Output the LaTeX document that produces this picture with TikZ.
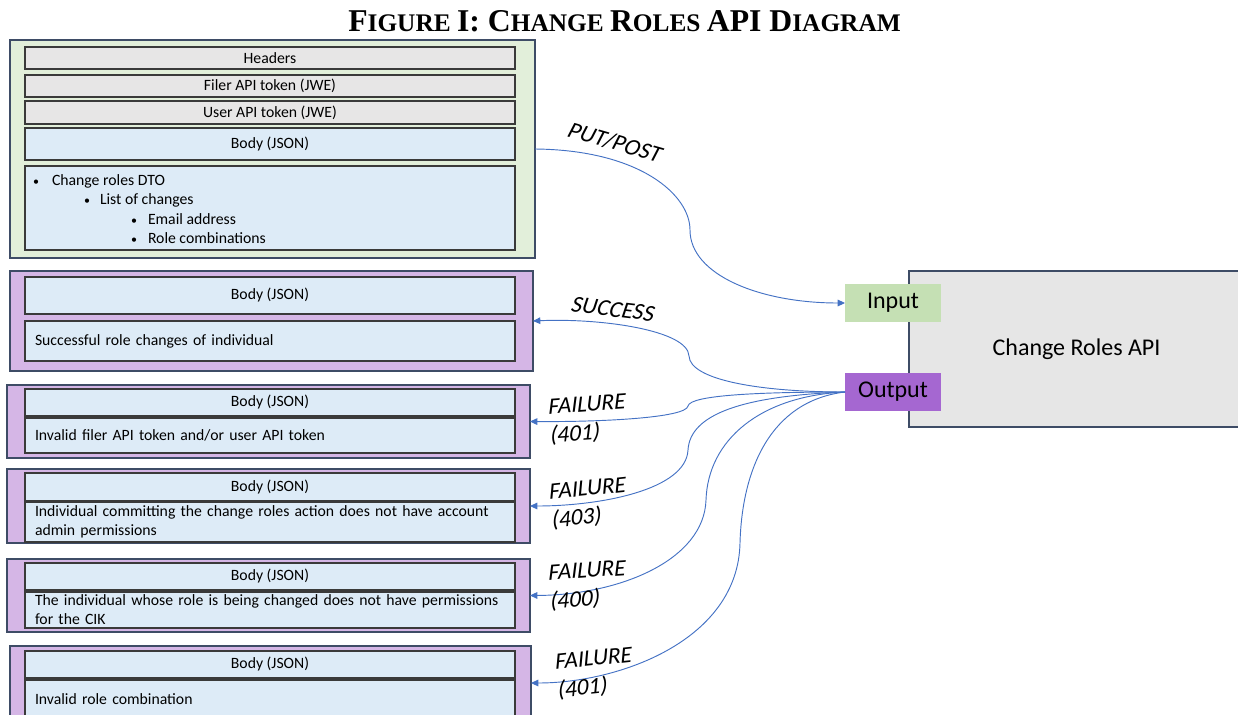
\documentclass[tikz,border=0pt]{standalone}
\usepackage{fontspec}
\setmainfont{Carlito}
\newfontfamily\labfont{Carlito}[FakeSlant=0.2]
\newfontfamily\titlefont{Liberation Serif}
\usetikzlibrary{arrows.meta}
\definecolor{edgec}{HTML}{3E4C66}
\definecolor{innerc}{HTML}{3A3A3A}
\definecolor{greenf}{HTML}{E2EFDA}
\definecolor{grayf}{HTML}{E7E6E6}
\definecolor{bluef}{HTML}{DDEBF7}
\definecolor{purplef}{HTML}{D5B6E6}
\definecolor{apif}{HTML}{E6E6E6}
\definecolor{inf}{HTML}{C5E0B4}
\definecolor{outf}{HTML}{A567D1}
\definecolor{arrowc}{HTML}{4472C4}
\newcommand\bx[7]{\node[#6, anchor=north west, minimum width={(#4-#2)*0.75pt}, minimum height={(#5-#3)*0.75pt}] (#1) at (#2,#3) {#7};}
\newcommand\tbig{\fontsize{23.8}{25}\selectfont}
\newcommand\tsml{\fontsize{19}{21}\selectfont}
\tikzset{
 base/.style={inner sep=0pt, outer sep=0pt, font=\fontsize{11.8}{14.25}\selectfont, text=black},
 outerg/.style={base, draw=edgec, fill=greenf, line width=0.8pt},
 outerp/.style={base, draw=edgec, fill=purplef, line width=0.8pt},
 hdr/.style={base, draw=innerc, fill=grayf, line width=0.9pt},
 body/.style={base, draw=innerc, fill=bluef, line width=0.9pt},
 lbody/.style={body, align=left, text width=352.5pt, inner xsep=7.5pt},
 item/.style={base, anchor=west},
 apibox/.style={base, draw=edgec, fill=apif, line width=0.8pt, font=\fontsize{18}{20}\selectfont},
 inport/.style={base, fill=inf, font=\fontsize{18}{20}\selectfont},
 outport/.style={base, fill=outf, font=\fontsize{18}{20}\selectfont},
 conn/.style={draw=arrowc, line width=0.7pt, -{Triangle[width=5pt,length=5.5pt]}},
 lab/.style={font=\labfont\fontsize{17.5}{21}\selectfont, inner sep=0pt, align=left},
}
\begin{document}
\begin{tikzpicture}[x=0.75pt,y=-0.75pt]
\useasboundingbox (0,0) rectangle (1238,714);
% title
\node[font=\titlefont\bfseries, anchor=base, inner sep=0pt] (title) at (624.5,31)
  {\tbig F\tsml IGURE \tbig I: C\tsml HANGE \tbig R\tsml OLES \tbig API D\tsml IAGRAM};
% request box
\bx{green}{10}{40}{535}{258}{outerg}{}
\bx{h1}{25}{47}{515}{69}{hdr}{Headers}
\bx{h2}{25}{75}{515}{97}{hdr}{Filer API token (JWE)}
\bx{h3}{25}{101}{515}{124}{hdr}{User API token (JWE)}
\bx{rb}{25}{128}{515}{160}{body}{Body (JSON)}
\bx{rl}{25}{166}{515}{250}{body}{}
\node[item] (i1) at (33,181) {\makebox[14.25pt][l]{\small•}Change roles DTO};
\node[item] (i2) at (84,200) {\makebox[12pt][l]{\small•}List of changes};
\node[item] (i3) at (131,219) {\makebox[12.75pt][l]{\small•}Email address};
\node[item] (i4) at (131,238) {\makebox[12.75pt][l]{\small•}Role combinations};
% response boxes
\bx{p1}{10}{271}{533}{371}{outerp}{}
\bx{p1a}{25}{277}{515}{314}{body}{Body (JSON)}
\bx{p1b}{25}{321}{515}{361}{lbody}{Successful role changes of individual}
\bx{p2}{7}{385}{530}{458}{outerp}{}
\bx{p2a}{25}{389}{515}{416}{body}{Body (JSON)}
\bx{p2b}{25}{418}{515}{453}{lbody}{Invalid filer API token and/or user API token}
\bx{p3}{7}{469}{530}{543}{outerp}{}
\bx{p3a}{25}{473}{515}{501}{body}{Body (JSON)}
\bx{p3b}{25}{502}{515}{542}{lbody}{Individual committing the change roles action does not have account\\admin permissions}
\bx{p4}{7}{559}{530}{632}{outerp}{}
\bx{p4a}{25}{563}{515}{590}{body}{Body (JSON)}
\bx{p4b}{25}{592}{515}{628}{lbody}{The individual whose role is being changed does not have permissions\\for the CIK}
\bx{p5}{10}{646}{531}{720}{outerp}{}
\bx{p5a}{25}{651}{515}{678}{body}{Body (JSON)}
\bx{p5b}{25}{680}{515}{718}{lbody}{Invalid role combination}
% API
\bx{api}{909}{271}{1244}{427}{apibox}{Change Roles API}
\bx{input}{845}{284}{941}{322}{inport}{Input}
\bx{output}{845}{373}{941}{411}{outport}{Output}
% connectors
\draw[conn] (green.east) .. controls (640,150) and (690,195) .. (690,230) .. controls (690,275) and (760,303) .. (input.west);
\draw[conn] (output.west) .. controls (760,392) and (690,380) .. (689,356) .. controls (688,330) and (600,318) .. (p1.east);
\draw[conn] (output.west) .. controls (760,392) and (690,395) .. (688,406) .. controls (686,418) and (600,422) .. (p2.east);
\draw[conn] (output.west) .. controls (740,396) and (690,415) .. (688,450) .. controls (686,490) and (600,506) .. (p3.east);
\draw[conn] (output.west) .. controls (760,396) and (708,440) .. (706,500) .. controls (704,560) and (620,595) .. (p4.east);
\draw[conn] (output.west) .. controls (770,401) and (742,470) .. (740,543) .. controls (738,640) and (620,683) .. (p5.east);
% labels
\node[lab, rotate=-16] (lput) at (614,142) {PUT/POST};
\node[lab, rotate=-7] (lsuc) at (612,309) {SUCCESS};
\node[lab, rotate=4] (lf1) at (587,420) {FAILURE\\(401)};
\node[lab, rotate=6] (lf2) at (588,504) {FAILURE\\(403)};
\node[lab, rotate=4] (lf3) at (587,586) {FAILURE\\(400)};
\node[lab, rotate=6] (lf4) at (594,674) {FAILURE\\(401)};
\end{tikzpicture}
\end{document}
